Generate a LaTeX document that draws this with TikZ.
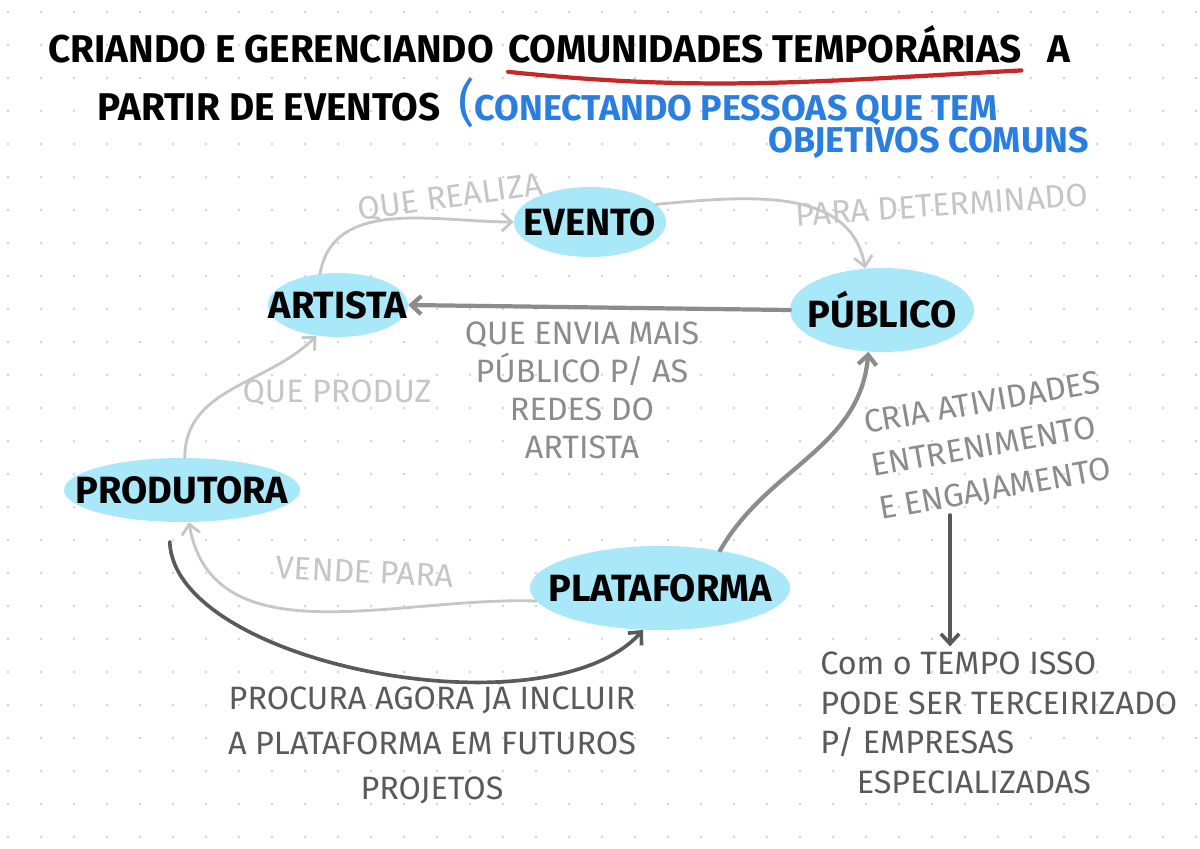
\documentclass[tikz,border=0pt]{standalone}
\usepackage{fontspec}
\setmainfont{Fira Sans}
\usetikzlibrary{arrows.meta,shapes.geometric,positioning}
\definecolor{skyc}{HTML}{A9E8F8}
\definecolor{lightg}{HTML}{C6C6C6}
\definecolor{midg}{HTML}{8C8C8C}
\definecolor{darkg}{HTML}{5A5A5A}
\definecolor{penblue}{HTML}{2A7EE0}
\definecolor{penred}{HTML}{C62828}
\definecolor{dotc}{HTML}{D2D2D2}

\begin{document}
\begin{tikzpicture}[x=0.025cm, y=0.025cm, >={Straight Barb[length=7pt,width=13pt]},
  blob/.style={ellipse, fill=skyc, inner sep=0pt,
    label={[font=\fontsize{27}{30}\selectfont\bfseries]center:#1}},
  ttl/.style={inner sep=0pt, font=\fontsize{27.5}{30}\selectfont\bfseries},
  bluetxt/.style={inner sep=0pt, penblue, font=\fontsize{25.5}{28}\selectfont\bfseries},
  note/.style={inner sep=0pt, align=center, font=\fontsize{23}{27}\selectfont},
  lite/.style={->, lightg, line width=2pt, line cap=round},
  mid/.style={->, midg, line width=3pt, line cap=round},
  dark/.style={->, darkg, line width=2.6pt, line cap=round}]

\useasboundingbox[fill=white] (0,0) rectangle (1200,-848);
\foreach \i in {0,...,36}
  \foreach \j in {0,...,25}
    \fill[dotc] (\i*33+8,-\j*33-12) circle (1.3);

% title
\node[ttl, anchor=base west] (t1) at (48,-62) {CRIANDO E GERENCIANDO};
\node[ttl, right=10pt of t1.base east, anchor=base west] (t2) {COMUNIDADES TEMPORÁRIAS};
\node[ttl, right=18pt of t2.base east, anchor=base west] (t3) {A};
\draw[penred, line width=3pt, line cap=round] ([yshift=-7pt]t2.base west) to[out=-6, in=183] ([yshift=-6pt]t2.base east);
\node[ttl, anchor=base west] (t4) at (97,-120) {PARTIR DE EVENTOS};
\node[bluetxt, right=12pt of t4.base east, anchor=base west] (b1) {{\fontsize{36}{36}\selectfont\mdseries(}CONECTANDO PESSOAS QUE TEM};
\node[bluetxt, anchor=base west] (b2) at (768,-152) {OBJETIVOS COMUNS};

% nodes
\node[blob=EVENTO, minimum width=3.8cm, minimum height=1.75cm] (evt) at (590,-222) {};
\node[blob=ARTISTA, minimum width=3.5cm, minimum height=1.6cm] (art) at (338,-305) {};
\node[blob=PÚBLICO, minimum width=4.6cm, minimum height=2.1cm] (pub) at (882,-310) {};
\node[blob=PRODUTORA, minimum width=5.9cm, minimum height=1.6cm] (prod) at (182,-490) {};
\node[blob=PLATAFORMA, minimum width=6.5cm, minimum height=2.1cm] (plat) at (660,-588) {};

% connectors
\draw[lite] (art.120) to[out=80, in=180] (evt.west);
\node[note, lightg, rotate=8] (realiza) at (450,-198) {QUE REALIZA};
\draw[lite] (evt.15) to[out=5, in=100] (pub.112);
\node[note, lightg, rotate=4] (determ) at (942,-205) {PARA DETERMINADO};
\draw[mid] (pub.west) -- (art.east);
\node[note, midg] (envia) at (582,-390) {QUE ENVIA MAIS\\PÚBLICO P/ AS\\REDES DO\\ARTISTA};
\draw[lite] (prod.85) to[out=90, in=225] (art.235);
\node[note, lightg] (produz) at (337,-393) {QUE PRODUZ};
\draw[lite] (plat.186) to[out=178, in=-80] (prod.-78);
\node[note, lightg, rotate=-3] (vende) at (365,-572) {VENDE PARA};
\draw[dark, shorten <=14pt] (prod.-112) to[out=-88, in=-132, looseness=0.75] (plat.-112);
\node[note, darkg, font=\fontsize{23}{32}\selectfont] (procura) at (432,-742) {PROCURA AGORA JÁ INCLUIR\\A PLATAFORMA EM FUTUROS\\PROJETOS};
\draw[mid] (plat.32) to[out=60, in=-95] (pub.-108);
\node[note, midg, rotate=10, align=left, font=\fontsize{23}{31}\selectfont] (cria) at (990,-447) {CRIA ATIVIDADES\\ENTRENIMENTO\\E ENGAJAMENTO};
\coordinate (c1) at (950,-515);
\node[note, darkg, align=left, anchor=north west, font=\fontsize{23}{28}\selectfont] (tempo) at (820,-652) {Com o TEMPO ISSO\\PODE SER TERCEIRIZADO\\P/ EMPRESAS\\\hspace*{26pt}ESPECIALIZADAS};
\draw[dark, shorten >=4pt] (c1) -- (c1 |- tempo.north);
\end{tikzpicture}
\end{document}
